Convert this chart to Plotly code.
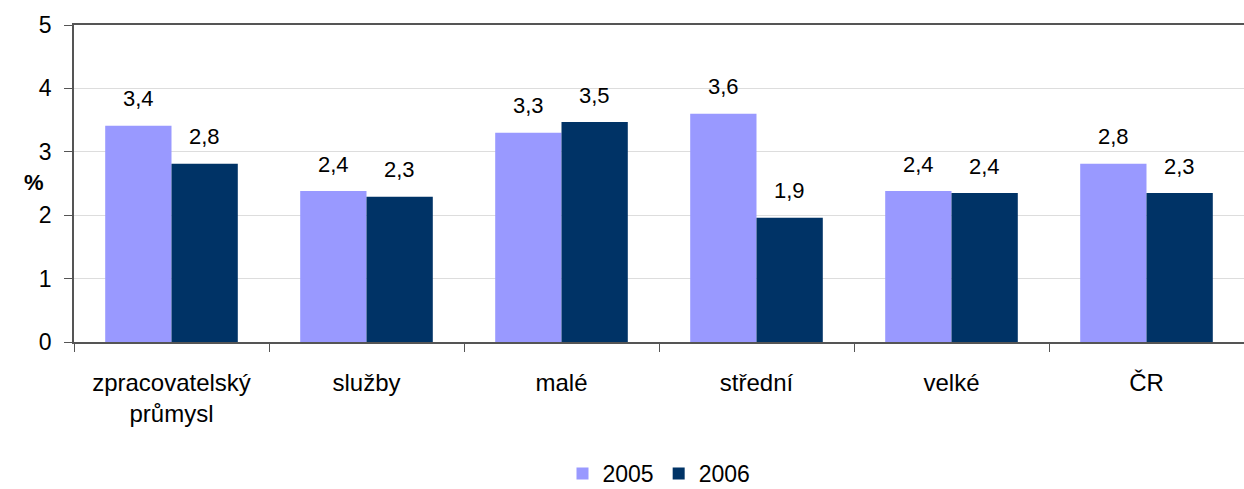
import plotly.graph_objects as go

categories = ["zpracovatelský<br>průmysl", "služby", "malé", "střední", "velké", "ČR"]
values_2005 = [3.41, 2.38, 3.30, 3.60, 2.38, 2.81]
values_2006 = [2.81, 2.29, 3.47, 1.96, 2.35, 2.35]
labels_2005 = ["3,4", "2,4", "3,3", "3,6", "2,4", "2,8"]
labels_2006 = ["2,8", "2,3", "3,5", "1,9", "2,4", "2,3"]
y_ticks = [0, 1, 2, 3, 4, 5]

C05 = "#9999FF"
C06 = "#003366"
FONT = "Liberation Sans, Arial, sans-serif"

fig = go.Figure()
fig.add_trace(go.Bar(name="2005", x=categories, y=values_2005, marker_color=C05, marker_line_width=0))
fig.add_trace(go.Bar(name="2006", x=categories, y=values_2006, marker_color=C06, marker_line_width=0))

annotations = []
for cat, v, t in zip(categories, values_2005, labels_2005):
    annotations.append(dict(x=cat, y=v, text=t, xref="x", yref="y", showarrow=False,
                            xshift=-33, yshift=27, font=dict(size=22, color="black", family=FONT)))
for cat, v, t in zip(categories, values_2006, labels_2006):
    annotations.append(dict(x=cat, y=v, text=t, xref="x", yref="y", showarrow=False,
                            xshift=33, yshift=27, font=dict(size=22, color="black", family=FONT)))
annotations.append(dict(x=-52 / 1170, y=(342 - 182) / 317, xref="paper", yref="paper", text="<b>%</b>",
                        showarrow=False, font=dict(size=22, color="black", family=FONT)))

fig.update_layout(
    width=1244, height=489,
    margin=dict(l=74, r=0, t=25, b=147, autoexpand=False),
    paper_bgcolor="white", plot_bgcolor="white",
    barmode="group", bargap=0.32, bargroupgap=0,
    font=dict(family=FONT, size=23, color="black"),
    showlegend=True,
    legend=dict(orientation="h", x=0.5, xanchor="center", y=-0.415, yanchor="middle",
                font=dict(size=23, family=FONT), itemwidth=30, traceorder="normal"),
    annotations=annotations,
    xaxis=dict(showline=True, linecolor="#555555", linewidth=1.5, mirror=True,
               ticks="outside", tickson="boundaries", ticklen=8, tickcolor="#555555",
               tickfont=dict(size=24, family=FONT), showgrid=False, ticklabelstandoff=18,
               automargin=False),
    yaxis=dict(range=[0, 5], tickvals=y_ticks, showline=True, linecolor="#555555", linewidth=1.5,
               ticks="outside", ticklen=8, tickcolor="#555555", showgrid=True, gridcolor="#DDDDDD",
               gridwidth=1, tickfont=dict(size=23, family=FONT), zeroline=False,
               ticklabelstandoff=8, automargin=False),
)

fig.write_html("out.html", config={"displayModeBar": False},
               post_script="document.body.style.margin='0';document.body.style.overflow='hidden';")
